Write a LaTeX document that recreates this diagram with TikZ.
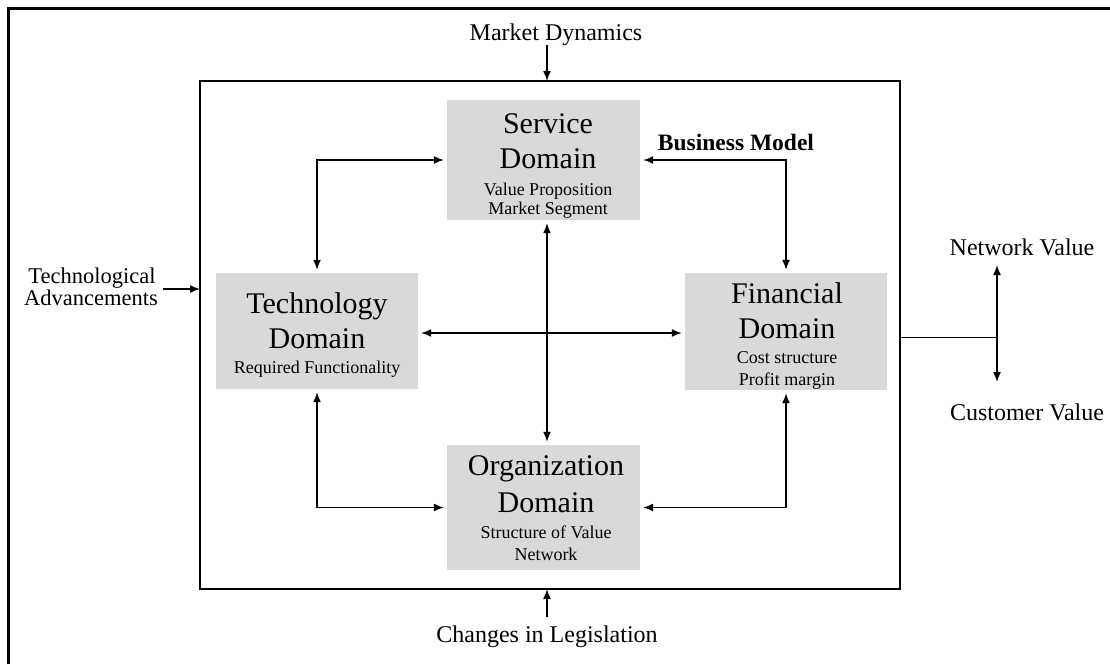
\documentclass[tikz,border=0pt]{standalone}
\usepackage{fontspec}
\setmainfont{Liberation Serif}
\usetikzlibrary{arrows.meta}
\begin{document}
\begin{tikzpicture}[x=1pt,y=-1pt,
  domainbox/.style={fill=black!15, draw=none, inner sep=0pt},
  ttl/.style={font=\fontsize{30}{35}\selectfont, anchor=base, inner sep=0pt},
  sub/.style={font=\fontsize{18}{20}\selectfont, anchor=base, inner sep=0pt},
  lbl/.style={font=\fontsize{24}{28}\selectfont, anchor=base, inner sep=0pt},
  link/.style={line width=1.5pt, {Latex[length=10pt,width=8pt]}-{Latex[length=10pt,width=8pt]}, shorten <=3pt, shorten >=3pt},
  push/.style={line width=1.5pt, -{Latex[length=10pt,width=8pt]}}
]
\useasboundingbox (0,0) rectangle (1110,664);

% outer frame (top and left edges)
\draw[line width=3pt] (8,664) -- (8,8) -- (1110,8);

% business model frame
\draw[line width=1.4pt] (200,81) rectangle (900,589);
\coordinate (frameN) at (547,81);
\coordinate (frameS) at (547,589);
\coordinate (frameW) at (200,289);
\coordinate (frameE) at (900,337);
\node[font=\fontsize{23.5}{27}\selectfont\bfseries, anchor=base, inner sep=0pt] (bm) at (736,150) {Business Model};

% the four domains
\path[domainbox] (447,100) rectangle (640,220);
\node[inner sep=0pt, minimum width=193pt, minimum height=120pt] (svc) at (543.5,160) {};
\node[ttl] (svc1) at (548,133) {Service};
\node[ttl] (svc2) at (548,168) {Domain};
\node[sub] (svc3) at (548,195) {Value Proposition};
\node[sub] (svc4) at (548,214) {Market Segment};

\path[domainbox] (216,273) rectangle (418,389);
\node[inner sep=0pt, minimum width=202pt, minimum height=116pt] (tech) at (317,331) {};
\node[ttl] (tech1) at (317,313) {Technology};
\node[ttl] (tech2) at (317,348) {Domain};
\node[sub] (tech3) at (317,373) {Required Functionality};

\path[domainbox] (685,273) rectangle (887,390);
\node[inner sep=0pt, minimum width=202pt, minimum height=117pt] (fin) at (786,331.5) {};
\node[ttl] (fin1) at (787,303) {Financial};
\node[ttl] (fin2) at (787,338) {Domain};
\node[sub] (fin3) at (787,363) {Cost structure};
\node[sub] (fin4) at (787,385) {Profit margin};

\path[domainbox] (447,445) rectangle (640,570);
\node[inner sep=0pt, minimum width=193pt, minimum height=125pt] (org) at (543.5,507.5) {};
\node[ttl] (org1) at (546,475) {Organization};
\node[ttl] (org2) at (546,512) {Domain};
\node[sub] (org3) at (546,538) {Structure of Value};
\node[sub] (org4) at (546,560) {Network};

% links between the domains
\draw[link] (svc.west) -| (tech.north);
\draw[link] (svc.east) -| (fin.north);
\draw[link] (tech.south) |- (org.west);
\draw[link] (fin.south) |- (org.east);
\draw[link] (tech.east |- 0,333) -- (fin.west |- 0,333);
\draw[link] (svc.south -| 547,0) -- (org.north -| 547,0);

% external drivers
\node[lbl] (md) at (556,40) {Market Dynamics};
\coordinate (mdfoot) at (547,45);
\draw[push] (mdfoot) -- (frameN);

\node[lbl] (cl) at (547,642) {Changes in Legislation};
\coordinate (clhead) at (547,617);
\draw[push] (clhead) -- (frameS);

\node[font=\fontsize{22.5}{26}\selectfont, anchor=base, inner sep=0pt] (ta1) at (92,283) {Technological};
\node[font=\fontsize{22.5}{26}\selectfont, anchor=base, inner sep=0pt] (ta2) at (91,305) {Advancements};
\coordinate (tafoot) at (163,289);
\draw[push] (tafoot) -- (frameW);

% value outputs
\coordinate (vjoin) at (997,337);
\draw[line width=0.8pt] (frameE) -- (vjoin);
\coordinate (vtop) at (997,265);
\coordinate (vbot) at (997,382);
\draw[line width=1.5pt, {Latex[length=10pt,width=8pt]}-{Latex[length=10pt,width=8pt]}] (vtop) -- (vbot);
\node[lbl] (nv) at (1022,255) {Network Value};
\node[lbl] (cv) at (1027,420) {Customer Value};
\end{tikzpicture}
\end{document}
